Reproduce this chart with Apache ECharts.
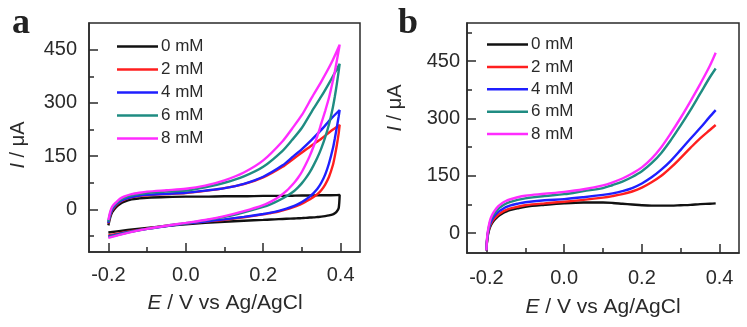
<!DOCTYPE html>
<html>
<head>
<meta charset="utf-8">
<script src="https://cdn.jsdelivr.net/npm/echarts@6/dist/echarts.min.js"></script>
<style>
  html, body { margin: 0; padding: 0; background: #fff; }
  #chart { width: 747px; height: 327px; }
</style>
</head>
<body>
<div id="chart"></div>
<script>
// Concentration labels (legend order)
const NAMES = ['0 mM', '2 mM', '4 mM', '6 mM', '8 mM'];
const COLORS = ['#111111', '#ff1f1f', '#1f1fff', '#1f8c82', '#ff2cff'];

// Panel a: cyclic voltammograms, potential (V) of the anodic and cathodic sweeps
const A_E_FWD = [-0.2, -0.195, -0.19, -0.18, -0.17, -0.16, -0.14, -0.12, -0.1, -0.05, 0.0, 0.05, 0.1, 0.15, 0.2, 0.25, 0.275, 0.3, 0.325, 0.35, 0.375, 0.3975];
const A_E_REV = [0.3975, 0.395, 0.39, 0.385, 0.38, 0.37, 0.36, 0.35, 0.34, 0.33, 0.32, 0.31, 0.3, 0.29, 0.28, 0.26, 0.24, 0.22, 0.2, 0.15, 0.1, 0.05, 0.0, -0.05, -0.1, -0.15, -0.2];

// Panel a currents (µA), anodic sweep
const A_FWD_0 = [-45, -22, -8, 6, 15, 21, 28, 31, 33, 35, 36, 36, 37, 37, 38, 38, 38.5, 39, 39, 40, 40, 41];
const A_FWD_2 = [-40, -16, -2, 12, 21, 27, 34, 38, 40, 43, 46, 52, 60, 71, 90, 120, 140, 160, 180, 199, 221, 238];
const A_FWD_4 = [-38, -14, 0, 14, 22, 28, 35, 39, 41, 44, 47, 53, 60, 72, 92, 124, 147, 170, 196, 224, 255, 280];
const A_FWD_6 = [-35, -10, 4, 17, 26, 32, 39, 43, 46, 50, 53, 62, 75, 93, 120, 165, 196, 230, 275, 318, 365, 410];
const A_FWD_8 = [-30, -6, 8, 20, 30, 36, 43, 47, 50, 54, 58, 67, 82, 104, 138, 192, 228, 266, 314, 360, 410, 464];

// Panel a currents (µA), cathodic sweep
const A_REV_0 = [41, 4, -6, -11, -14, -17, -19, -20.5, -21.5, -22.5, -23, -24, -24.5, -25, -25.5, -26.5, -27.5, -28.5, -29.5, -32, -35, -38, -42, -47, -52, -58, -65];
const A_REV_2 = [238, 215, 180, 150, 125, 92, 70, 54, 43, 35, 28, 22, 16, 11, 7, 0, -6, -10, -14, -22, -29, -34, -40, -46, -54, -63, -73];
const A_REV_4 = [280, 262, 230, 200, 172, 130, 98, 75, 58, 46, 36, 28, 21, 15, 10, 2, -4, -9, -13, -21, -28, -34, -40, -47, -55, -64, -76];
const A_REV_6 = [410, 390, 352, 318, 288, 240, 203, 172, 146, 124, 104, 88, 74, 62, 52, 37, 25, 15, 7, -8, -21, -31, -39, -46, -55, -65, -78];
const A_REV_8 = [464, 448, 418, 388, 362, 315, 277, 242, 207, 177, 150, 127, 106, 89, 75, 52, 35, 22, 12, -5, -19, -30, -38, -46, -55, -66, -80];

// Panel b: linear sweep voltammograms
const B_E = [-0.2, -0.199, -0.197, -0.194, -0.19, -0.185, -0.18, -0.17, -0.16, -0.15, -0.14, -0.12, -0.1, -0.05, 0.0, 0.05, 0.1, 0.125, 0.15, 0.175, 0.2, 0.225, 0.25, 0.275, 0.3, 0.325, 0.35, 0.375, 0.39];
const B_0 = [-45, -28, -10, 5, 17, 27, 34, 44, 51, 56, 60, 65, 69, 74, 78, 80, 80, 79, 77, 75, 73, 72, 72, 72, 73, 74, 76, 77, 78];
const B_2 = [-45, -27, -8, 8, 21, 31, 38, 48, 55, 60, 64, 69, 73, 78, 82, 87, 93, 97, 102, 109, 119, 133, 150, 172, 197, 223, 248, 270, 283];
const B_4 = [-45, -26, -6, 11, 25, 36, 44, 55, 62, 68, 72, 77, 81, 86, 89, 94, 100, 104, 110, 118, 130, 146, 166, 190, 218, 247, 275, 305, 322];
const B_6 = [-45, -24, -3, 15, 31, 43, 51, 63, 71, 77, 81, 87, 91, 97, 102, 110, 118, 126, 135, 147, 162, 183, 210, 244, 282, 322, 365, 408, 431];
const B_8 = [-45, -22, 0, 19, 36, 48, 57, 70, 78, 84, 88, 94, 98, 103, 108, 115, 125, 133, 143, 156, 172, 195, 225, 262, 302, 345, 390, 438, 472];

// Axis ticks
const X_MAJOR = [-0.2, 0.0, 0.2, 0.4];
const X_MINOR = [-0.1, 0.1, 0.3];
const A_Y_MAJOR = [0, 150, 300, 450];
const A_Y_MINOR = [-75, 75, 225, 375];
const B_Y_MAJOR = [0, 150, 300, 450];
const B_Y_MINOR = [75, 225, 375, 525];

const A_FWD = [A_FWD_0, A_FWD_2, A_FWD_4, A_FWD_6, A_FWD_8];
const A_REV = [A_REV_0, A_REV_2, A_REV_4, A_REV_6, A_REV_8];
const B_ALL = [B_0, B_2, B_4, B_6, B_8];

const FONT = '"Liberation Sans", Arial, Helvetica, sans-serif';
const INK = '#2a2a2a';

function pairs(xs, ys) { return xs.map((x, i) => [x, ys[i]]); }

function xAxes(gridIndex, labelMargin) {
  return [
    {
      gridIndex, type: 'value', position: 'bottom', min: -0.25, max: 0.45,
      axisLine: { show: true, onZero: false, lineStyle: { color: INK, width: 1.5 } },
      axisTick: { show: true, inside: true, length: 9, customValues: X_MAJOR, lineStyle: { color: INK, width: 1.5 } },
      axisLabel: { show: true, customValues: X_MAJOR, margin: labelMargin, color: INK, fontSize: 20, fontFamily: FONT,
                   formatter: v => v.toFixed(1) },
      splitLine: { show: false }
    },
    {
      gridIndex, type: 'value', position: 'bottom', min: -0.25, max: 0.45,
      axisLine: { show: false, onZero: false },
      axisTick: { show: true, inside: true, length: 5, customValues: X_MINOR, lineStyle: { color: INK, width: 1.5 } },
      axisLabel: { show: false },
      splitLine: { show: false }
    }
  ];
}

function yAxes(gridIndex, min, max, major, minor, labelMargin) {
  return [
    {
      gridIndex, type: 'value', position: 'left', min, max,
      axisLine: { show: true, onZero: false, lineStyle: { color: INK, width: 1.5 } },
      axisTick: { show: true, inside: true, length: 9, customValues: major, lineStyle: { color: INK, width: 1.5 } },
      axisLabel: { show: true, customValues: major, margin: labelMargin, color: INK, fontSize: 20, fontFamily: FONT },
      splitLine: { show: false }
    },
    {
      gridIndex, type: 'value', position: 'left', min, max,
      axisLine: { show: false, onZero: false },
      axisTick: { show: true, inside: true, length: 5, customValues: minor, lineStyle: { color: INK, width: 1.5 } },
      axisLabel: { show: false },
      splitLine: { show: false }
    }
  ];
}

const series = [];
NAMES.forEach((name, k) => {
  series.push({
    name, type: 'line', xAxisIndex: 0, yAxisIndex: 0,
    data: pairs(A_E_FWD, A_FWD[k]).concat(pairs(A_E_REV, A_REV[k])),
    symbol: 'none', smooth: 0.25, z: 2 + k,
    lineStyle: { color: COLORS[k], width: 2.4 }, itemStyle: { color: COLORS[k] }
  });
});
NAMES.forEach((name, k) => {
  series.push({
    name, type: 'line', xAxisIndex: 2, yAxisIndex: 2,
    data: pairs(B_E, B_ALL[k]),
    symbol: 'none', smooth: 0.35, z: 2 + k,
    lineStyle: { color: COLORS[k], width: 2.4 }, itemStyle: { color: COLORS[k] }
  });
});

function legend(left, top, gap) {
  return {
    data: NAMES, orient: 'vertical', left, top, padding: 0,
    icon: 'rect', itemWidth: 41, itemHeight: 2.5, itemGap: gap, selectedMode: false,
    textStyle: { fontSize: 17, color: INK, fontFamily: FONT, padding: [0, 0, 0, -2] }
  };
}

function title(x, y, text, rotation, size) {
  const fs = size || 20;
  return {
    type: 'text', x, y, rotation: rotation || 0,
    style: {
      text, fill: INK, font: fs + 'px ' + FONT, align: 'center', verticalAlign: 'middle',
      rich: { i: { fontStyle: 'italic', fontSize: fs, fontFamily: FONT, fill: INK } }
    }
  };
}

const chart = echarts.init(document.getElementById('chart'), null, { renderer: 'canvas' });
chart.setOption({
  animation: false,
  backgroundColor: '#ffffff',
  grid: [
    { left: 89, top: 23, width: 271, height: 229, show: true, borderColor: INK, borderWidth: 1.5, containLabel: false },
    { left: 467, top: 23, width: 272, height: 230, show: true, borderColor: INK, borderWidth: 1.5, containLabel: false }
  ],
  xAxis: xAxes(0, 13).concat(xAxes(1, 15)),
  yAxis: yAxes(0, -120, 525, A_Y_MAJOR, A_Y_MINOR, 12).concat(yAxes(1, -52, 550, B_Y_MAJOR, B_Y_MINOR, 7)),
  legend: [legend(117, 38, 6), legend(487, 36, 5.4)],
  series,
  graphic: [
    { type: 'text', x: 12, y: 6, style: { text: 'a', fill: '#222', font: 'bold 36px "Liberation Serif", "Times New Roman", serif', align: 'left', verticalAlign: 'top' } },
    { type: 'text', x: 398, y: 6, style: { text: 'b', fill: '#222', font: 'bold 36px "Liberation Serif", "Times New Roman", serif', align: 'left', verticalAlign: 'top' } },
    title(225, 303, '{i|E} / V vs Ag/AgCl', 0, 21),
    title(603, 307, '{i|E} / V vs Ag/AgCl', 0, 21),
    title(18, 145, '{i|I} / μA', Math.PI / 2),
    title(395, 108, '{i|I} / μA', Math.PI / 2)
  ]
});
</script>
</body>
</html>
